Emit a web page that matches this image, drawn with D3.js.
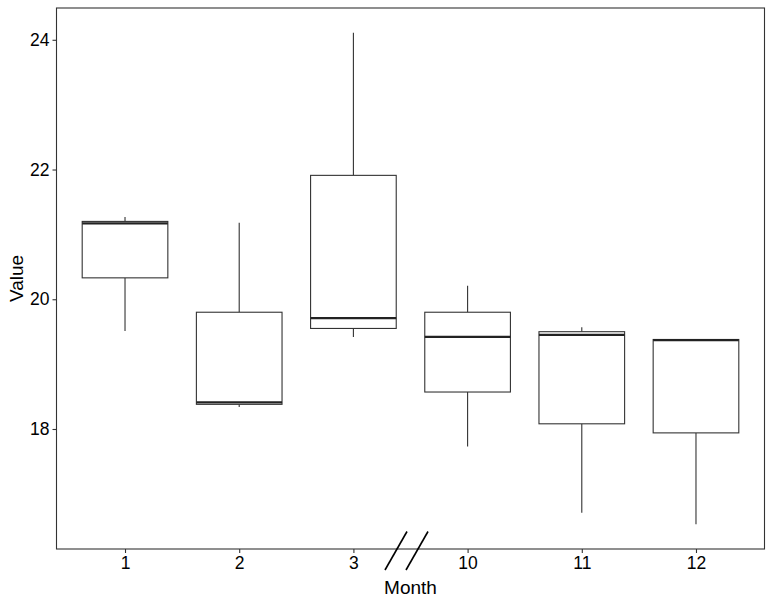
<!DOCTYPE html>
<html>
<head>
<meta charset="utf-8">
<script src="https://cdn.jsdelivr.net/npm/d3@7"></script>
<style>
body { margin: 0; background: #fff; }
text { font-family: "Liberation Sans", Arial, sans-serif; }
</style>
</head>
<body>
<svg id="chart" width="771" height="598"></svg>
<script>
// box plot by month, with a break between 3 and 10

var months = ['1', '2', '3', '10', '11', '12'];
var whiskerLow = [19.51, 18.34, 19.42, 17.73, 16.71, 16.53];
var q1 = [20.33, 18.38, 19.55, 18.57, 18.08, 17.94];
var medians = [21.17, 18.41, 19.71, 19.42, 19.45, 19.37];
var q3 = [21.20, 19.80, 21.91, 19.80, 19.50, 19.38];
var whiskerHigh = [21.27, 21.18, 24.11, 20.21, 19.57, 19.38];
var yTicks = [18, 20, 22, 24];

var pad = {left: 56.5, right: 764.5, top: 8, bottom: 549};

var svg = d3.select('#chart');

var x = d3.scalePoint().domain(months).range([pad.left, pad.right]).padding(0.6);
var y = d3.scaleLinear().domain([16.15, 24.49]).range([pad.bottom, pad.top]);
var boxW = x.step() * 0.75;

var data = months.map(function (m, i) {
	return {m: m, lo: whiskerLow[i], q1: q1[i], med: medians[i], q3: q3[i], hi: whiskerHigh[i]};
});

var g = svg.append('g');

var boxes = g.selectAll('g.box').data(data).enter().append('g').attr('class', 'box');

// whiskers
boxes.append('line')
	.attr('x1', function (d) {return x(d.m);}).attr('x2', function (d) {return x(d.m);})
	.attr('y1', function (d) {return y(d.q3);}).attr('y2', function (d) {return y(d.hi);})
	.attr('stroke', '#333').attr('stroke-width', 1.1);
boxes.append('line')
	.attr('x1', function (d) {return x(d.m);}).attr('x2', function (d) {return x(d.m);})
	.attr('y1', function (d) {return y(d.q1);}).attr('y2', function (d) {return y(d.lo);})
	.attr('stroke', '#333').attr('stroke-width', 1.1);

// boxes
boxes.append('rect')
	.attr('x', function (d) {return x(d.m) - boxW/2;})
	.attr('width', boxW)
	.attr('y', function (d) {return y(d.q3);})
	.attr('height', function (d) {return y(d.q1) - y(d.q3);})
	.attr('fill', '#fff').attr('stroke', '#333').attr('stroke-width', 1.1);

// median
boxes.append('line')
	.attr('x1', function (d) {return x(d.m) - boxW/2;}).attr('x2', function (d) {return x(d.m) + boxW/2;})
	.attr('y1', function (d) {return y(d.med);}).attr('y2', function (d) {return y(d.med);})
	.attr('stroke', '#222').attr('stroke-width', 2.2);

// panel border
svg.append('rect')
	.attr('x', pad.left).attr('y', pad.top)
	.attr('width', pad.right - pad.left).attr('height', pad.bottom - pad.top)
	.attr('fill', 'none').attr('stroke', '#333').attr('stroke-width', 1.1);

// axes
var yAxis = svg.append('g').attr('transform', 'translate(' + pad.left + ',0)')
	.call(d3.axisLeft(y).tickValues(yTicks).tickSize(4).tickPadding(3));
var xAxis = svg.append('g').attr('transform', 'translate(0,' + pad.bottom + ')')
	.call(d3.axisBottom(x).tickSize(4).tickPadding(4));
[yAxis, xAxis].forEach(function (a) {
	a.select('.domain').remove();
	a.selectAll('.tick line').attr('stroke', '#333').attr('stroke-width', 1.1);
	a.selectAll('.tick text').attr('fill', '#000').style('font-size', '17.5px');
});

// axis break marks between 3 and 10
var bx = (x('3') + x('10'))/2 - 4;
[-10.5, 10.5].forEach(function (o) {
	svg.append('line')
		.attr('x1', bx + o - 11).attr('y1', 570)
		.attr('x2', bx + o + 11).attr('y2', 531.5)
		.attr('stroke', '#000').attr('stroke-width', 1.6);
});

// titles
svg.append('text')
	.attr('x', (pad.left + pad.right)/2).attr('y', 594)
	.attr('text-anchor', 'middle').style('font-size', '19px').attr('fill', '#000')
	.text('Month');
svg.append('text')
	.attr('transform', 'translate(23,' + ((pad.top + pad.bottom)/2) + ') rotate(-90)')
	.attr('text-anchor', 'middle').style('font-size', '19px').attr('fill', '#000')
	.text('Value');
</script>
</body>
</html>
